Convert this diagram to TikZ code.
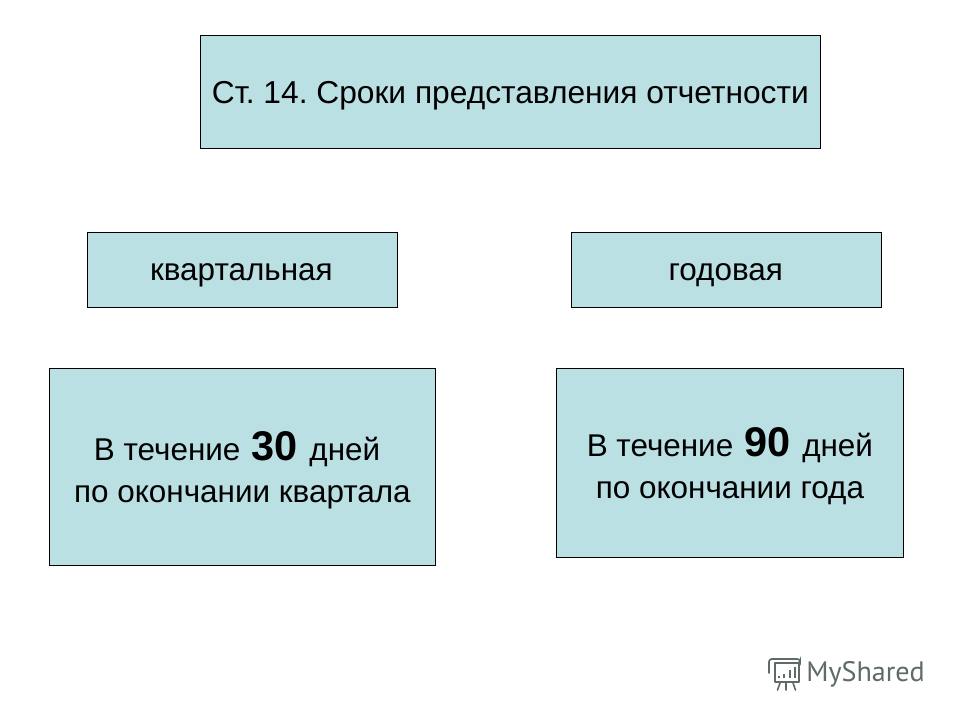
\documentclass[tikz,border=0pt]{standalone}
\usepackage{fontspec}
\setmainfont{Liberation Sans}
\newfontfamily\logofont{PT Sans}
\definecolor{boxfill}{HTML}{BBE0E3}
\definecolor{logogray}{HTML}{5F6B68}
\tikzset{
  box/.style={draw=black,line width=0.6pt,fill=boxfill,inner sep=0pt,align=center,anchor=north west,text=black,font=\fontsize{23.5bp}{31.5bp}\selectfont},
}
\newcommand{\bignum}[1]{{\fontsize{31bp}{31.5bp}\selectfont\bfseries #1}}
\newcommand{\down}[2]{\raisebox{-#1}[\height][\depth]{#2}}
\frenchspacing
\begin{document}
\begin{tikzpicture}[x=0.75pt,y=-0.75pt]
\useasboundingbox (0,0) rectangle (960,720);
\fill[white] (0,0) rectangle (960,720);
\node[box,minimum width=465pt,minimum height=84.75pt,font=\fontsize{23.7bp}{31.5bp}\selectfont] (title) at (200,35.5) {\down{2.2pt}{Ст. 14. Сроки представления отчетности}};
\node[box,minimum width=232.5pt,minimum height=56.25pt] (q) at (87,232.5) {\down{3.6pt}{\hspace{-1.5pt}квартальная}};
\node[box,minimum width=232.5pt,minimum height=56.25pt] (y) at (571,232.5) {\down{3.6pt}{\hspace{-1pt}годовая}};
\node[box,minimum width=289.5pt,minimum height=147.75pt] (qd) at (49,368) {\down{2.7pt}{\hspace{-8pt}В течение\hspace{2pt} \bignum{30} \hspace{2pt}дней}\\\down{2.7pt}{по окончании квартала}};
\node[box,minimum width=260.25pt,minimum height=141.75pt] (yd) at (556,368) {\down{2.7pt}{В течение\hspace{2pt} \bignum{90} \hspace{2pt}дней}\\\down{2.7pt}{по окончании года}};
\node[anchor=west,inner sep=0pt,text=logogray,font=\logofont\fontsize{21bp}{21bp}\selectfont] (logo) at (806,674) {MyShared};
\draw[logogray,line width=1.2pt,line join=round] (775,663) rectangle (799,682);
\draw[logogray,line width=1.2pt,line cap=round,rounded corners=2pt] (769,673) -- (769,659) -- (800,659) -- (800,663) -- (775,663);
\draw[logogray,line width=1.2pt,line cap=round] (780,683) -- (777.5,690) (786,683) -- (786,690) (793,683) -- (795.5,690);
\draw[logogray,line width=2pt] (779,678) -- (779,676) (784,678) -- (784,674) (790,678) -- (790,670) (795,678) -- (795,667);
\end{tikzpicture}
\end{document}
